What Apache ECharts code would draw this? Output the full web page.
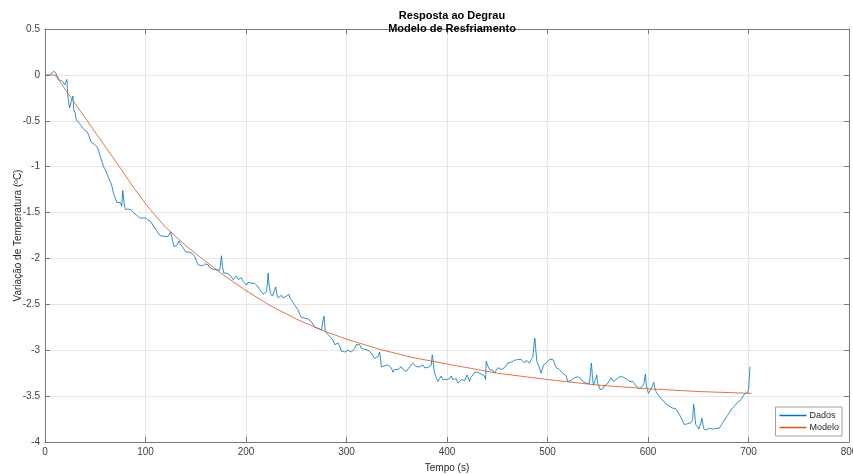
<!DOCTYPE html>
<html>
<head>
<meta charset="utf-8">
<script src="https://cdn.jsdelivr.net/npm/echarts@6/dist/echarts.min.js"></script>
<style>
  html, body { margin: 0; padding: 0; background: #fff; }
  #chart { width: 853px; height: 474px; }
</style>
</head>
<body>
<div id="chart"></div>
<script>
// eixos
const ticksX = [0, 100, 200, 300, 400, 500, 600, 700, 800];
const ticksY = [0.5, 0, -0.5, -1, -1.5, -2, -2.5, -3, -3.5, -4];

// curva do modelo
const modeloTempo = [0, 10, 26, 42, 58, 74, 89, 104, 120, 140, 156, 175, 200, 225, 250, 275, 300, 333, 366, 400, 450, 500, 550, 600, 650, 703];
const modeloValor = [0, 0, -0.25, -0.5, -0.75, -1.0, -1.24, -1.46, -1.66, -1.86, -2.0, -2.16, -2.35, -2.52, -2.66, -2.78, -2.88, -2.99, -3.08, -3.15, -3.25, -3.32, -3.38, -3.42, -3.45, -3.47];

// dados medidos [tempo, variacao]
const dados = [
  [5,0],[6.3,0.01],[8.6,0.04],[10.9,0.02],[13.5,-0.05],[15.2,-0.07],[17.5,-0.07],[19.5,-0.11],[21.1,-0.13],[21.8,-0.05],
  [22.8,-0.24],[24.5,-0.36],[26.3,-0.28],[27.8,-0.23],[28.6,-0.38],[30.1,-0.42],[31.1,-0.49],[32.7,-0.51],[35.1,-0.54],[37.4,-0.58],
  [39.4,-0.60],[40.7,-0.58],[41.7,-0.62],[43.3,-0.65],[45.0,-0.71],[46.6,-0.74],[49.3,-0.76],[51.6,-0.78],[53.3,-0.82],[54.9,-0.89],
  [56.6,-0.94],[58.2,-1.00],[59.9,-1.03],[61.5,-1.07],[63.2,-1.12],[64.9,-1.16],[66.5,-1.21],[68.2,-1.29],[69.8,-1.30],[71.5,-1.39],
  [73.1,-1.40],[74.8,-1.39],[76.4,-1.43],[77.4,-1.26],[78.4,-1.26],[79.1,-1.43],[80.4,-1.47],[82.4,-1.46],[84.1,-1.44],[85.7,-1.47],
  [88.0,-1.50],[91.3,-1.53],[94.6,-1.56],[97.9,-1.56],[100.3,-1.56],[102.3,-1.58],[104.6,-1.59],[106.2,-1.61],[110.0,-1.68],[114.3,-1.75],
  [119.3,-1.76],[122.6,-1.76],[124.9,-1.71],[125.9,-1.70],[126.9,-1.80],[128.2,-1.87],[130.9,-1.86],[132.5,-1.84],[133.5,-1.81],[134.8,-1.85],
  [136.8,-1.87],[138.2,-1.89],[140.1,-1.93],[142.5,-1.93],[145.8,-1.94],[147.4,-1.94],[149.1,-1.98],[150.7,-2.03],[152.4,-2.07],[154.1,-2.08],
  [156.7,-2.08],[159.0,-2.06],[160.7,-2.05],[162.3,-2.07],[164.0,-2.10],[165.6,-2.11],[167.3,-2.12],[169.0,-2.13],[170.6,-2.12],[172.3,-2.14],
  [173.9,-2.13],[175.6,-1.97],[176.6,-2.09],[177.9,-2.16],[178.9,-2.14],[180.6,-2.16],[182.2,-2.14],[183.9,-2.18],[185.5,-2.20],[187.2,-2.23],
  [188.8,-2.21],[190.5,-2.19],[192.2,-2.23],[193.8,-2.22],[195.5,-2.21],[197.1,-2.25],[198.8,-2.27],[200.4,-2.29],[202.1,-2.26],[203.8,-2.24],
  [205.4,-2.27],[207.1,-2.29],[208.7,-2.27],[210.4,-2.29],[212.0,-2.31],[213.7,-2.34],[215.3,-2.36],[217.0,-2.39],[218.7,-2.38],[220.3,-2.36],
  [221.3,-2.28],[222.0,-2.16],[223.0,-2.29],[224.3,-2.38],[226.3,-2.41],[228.6,-2.34],[229.6,-2.31],[230.9,-2.40],[232.2,-2.43],[233.6,-2.45],
  [235.2,-2.40],[236.9,-2.43],[240.2,-2.41],[242.8,-2.39],[243.6,-2.43],[245.2,-2.45],[246.9,-2.48],[248.5,-2.51],[250.2,-2.53],[251.8,-2.56],
  [253.5,-2.61],[255.1,-2.64],[256.8,-2.63],[258.5,-2.65],[260.1,-2.67],[261.8,-2.66],[263.4,-2.65],[265.1,-2.69],[266.7,-2.72],[268.4,-2.75],
  [270.1,-2.74],[271.7,-2.76],[273.4,-2.75],[275.0,-2.78],[276.7,-2.67],[277.7,-2.63],[278.7,-2.78],[280.0,-2.81],[281.7,-2.83],[283.3,-2.85],
  [285.0,-2.87],[286.6,-2.89],[288.3,-2.94],[290.0,-2.92],[291.6,-2.92],[293.3,-2.96],[294.9,-3.01],[296.6,-3.03],[298.2,-3.02],[299.9,-3.01],
  [301.5,-3.00],[303.2,-3.00],[304.9,-3.02],[306.5,-3.01],[308.2,-2.98],[309.8,-2.94],[311.5,-2.92],[313.1,-2.94],[314.8,-2.98],[316.4,-3.00],
  [318.1,-2.99],[319.8,-2.98],[321.4,-3.00],[323.1,-3.01],[324.7,-3.03],[326.4,-3.05],[328.0,-3.09],[329.7,-3.10],[331.3,-3.07],[333.0,-3.02],
  [334.7,-3.18],[336.3,-3.18],[338.0,-3.17],[339.6,-3.18],[341.3,-3.16],[342.9,-3.14],[344.6,-3.19],[346.3,-3.24],[347.9,-3.21],[349.6,-3.19],
  [351.2,-3.21],[352.9,-3.21],[354.5,-3.18],[356.2,-3.21],[357.8,-3.19],[359.5,-3.23],[361.2,-3.21],[362.8,-3.18],[364.5,-3.16],[366.1,-3.14],
  [367.8,-3.15],[369.4,-3.18],[371.1,-3.19],[372.8,-3.18],[374.4,-3.18],[376.1,-3.16],[377.7,-3.19],[379.4,-3.21],[381.0,-3.19],[382.7,-3.21],
  [384.4,-3.16],[385.3,-3.05],[386.0,-3.09],[387.0,-3.21],[388.0,-3.26],[389.3,-3.30],[391.0,-3.34],[392.6,-3.31],[394.3,-3.28],[395.9,-3.32],
  [397.6,-3.30],[399.3,-3.32],[400.9,-3.30],[402.6,-3.31],[404.2,-3.28],[405.9,-3.32],[407.5,-3.34],[409.2,-3.31],[410.9,-3.36],[412.5,-3.34],
  [414.2,-3.32],[415.8,-3.30],[417.5,-3.33],[419.1,-3.31],[420.1,-3.27],[421.1,-3.25],[422.5,-3.34],[423.4,-3.30],[424.1,-3.28],[425.8,-3.27],
  [427.4,-3.24],[429.1,-3.25],[430.7,-3.24],[432.4,-3.23],[434.0,-3.26],[435.7,-3.25],[437.4,-3.28],[438.4,-3.32],[439.0,-3.12],[440.0,-3.14],
  [441.0,-3.18],[442.3,-3.21],[444.0,-3.19],[445.6,-3.22],[447.3,-3.25],[449.0,-3.23],[450.6,-3.19],[452.3,-3.18],[453.9,-3.21],[455.6,-3.21],
  [457.2,-3.19],[458.9,-3.21],[460.5,-3.14],[462.2,-3.12],[463.9,-3.13],[465.5,-3.12],[467.2,-3.11],[468.8,-3.10],[470.5,-3.10],[472.1,-3.11],
  [473.8,-3.10],[475.5,-3.12],[477.1,-3.14],[478.8,-3.11],[480.4,-3.12],[482.1,-3.14],[483.7,-3.10],[485.4,-3.07],[486.4,-2.96],[487.4,-2.87],
  [488.4,-3.00],[489.4,-3.12],[490.7,-3.14],[492.0,-3.19],[493.7,-3.25],[494.7,-3.21],[496.0,-3.16],[497.3,-3.14],[498.7,-3.14],[500.3,-3.13],
  [502.0,-3.10],[503.6,-3.11],[505.3,-3.10],[506.9,-3.14],[508.6,-3.19],[510.2,-3.21],[511.9,-3.21],[513.6,-3.23],[515.2,-3.25],[516.9,-3.27],
  [518.5,-3.28],[520.2,-3.34],[521.8,-3.36],[523.5,-3.33],[525.2,-3.31],[526.8,-3.30],[528.5,-3.29],[530.1,-3.29],[531.8,-3.29],[533.4,-3.31],
  [535.1,-3.34],[536.7,-3.35],[538.4,-3.36],[540.1,-3.38],[541.7,-3.36],[542.7,-3.25],[543.7,-3.14],[544.7,-3.29],[545.7,-3.38],[546.7,-3.36],
  [547.7,-3.32],[549.0,-3.27],[550.0,-3.36],[551.0,-3.39],[552.3,-3.43],[553.6,-3.44],[555.0,-3.42],[556.6,-3.39],[558.3,-3.39],[559.9,-3.36],
  [561.6,-3.34],[563.3,-3.30],[564.2,-3.29],[565.6,-3.34],[566.9,-3.35],[568.2,-3.32],[569.9,-3.30],[571.5,-3.29],[573.2,-3.28],[574.8,-3.29],
  [576.5,-3.30],[578.2,-3.31],[579.8,-3.32],[581.5,-3.34],[583.1,-3.35],[584.8,-3.34],[586.4,-3.36],[588.1,-3.39],[589.8,-3.39],[591.4,-3.42],
  [593.1,-3.43],[594.7,-3.39],[596.0,-3.36],[597.4,-3.26],[598.4,-3.38],[599.4,-3.43],[600.4,-3.47],[601.4,-3.46],[603.0,-3.42],[604.7,-3.38],
  [605.7,-3.35],[606.7,-3.41],[608.0,-3.45],[609.6,-3.48],[611.3,-3.50],[613.0,-3.53],[614.6,-3.54],[616.3,-3.56],[617.9,-3.59],[619.6,-3.60],
  [621.2,-3.61],[622.9,-3.59],[624.5,-3.63],[626.2,-3.65],[627.9,-3.64],[629.5,-3.65],[631.2,-3.70],[632.8,-3.72],[634.5,-3.77],[636.1,-3.81],
  [637.8,-3.82],[639.5,-3.80],[641.1,-3.81],[642.8,-3.79],[644.4,-3.76],[645.4,-3.59],[646.4,-3.68],[647.4,-3.81],[648.4,-3.79],[649.4,-3.83],
  [650.4,-3.86],[651.7,-3.87],[652.7,-3.79],[653.7,-3.74],[654.7,-3.81],[655.7,-3.86],[656.7,-3.88],[657.7,-3.87],[659.3,-3.86],[661.0,-3.85],
  [662.6,-3.84],[664.3,-3.86],[666.0,-3.84],[667.6,-3.85],[669.3,-3.84],[670.9,-3.85],[672.6,-3.82],[674.2,-3.79],[675.9,-3.76],[677.6,-3.74],
  [679.2,-3.71],[680.9,-3.68],[682.5,-3.65],[684.2,-3.63],[685.8,-3.61],[687.5,-3.59],[689.1,-3.57],[690.8,-3.56],[692.5,-3.54],[694.1,-3.51],
  [695.8,-3.48],[697.4,-3.47],[699.1,-3.46],[700.1,-3.43],[700.7,-3.32],[701.4,-3.19],[702.1,-3.18]
];

const modelo = modeloTempo.map((t, i) => [t, modeloValor[i]]);

const fonte = 'Liberation Sans, Arial, Helvetica, sans-serif';
const corEixo = '#7a7a7a';
const corTexto = '#404040';
const corGrade = '#e6e6e6';

const chart = echarts.init(document.getElementById('chart'));
chart.setOption({
    backgroundColor: '#fff',
    animation: false,
    textStyle: { fontFamily: fonte },
    title: {
        text: 'Resposta ao Degrau\nModelo de Resfriamento',
        left: 447,
        top: 4,
        textAlign: 'center',
        textStyle: { fontSize: 11, fontWeight: 'bold', color: '#000', lineHeight: 13, fontFamily: fonte }
    },
    grid: { left: 45, right: 4, top: 29, bottom: 32, containLabel: false, outerBoundsMode: 'none' },
    legend: {
        data: ['Dados', 'Modelo'],
        orient: 'vertical',
        right: 11,
        bottom: 38,
        icon: 'rect',
        itemWidth: 27,
        itemHeight: 1.5,
        itemGap: 3,
        padding: [4, 3, 4, 4],
        backgroundColor: '#fff',
        borderColor: '#8a8a8a',
        borderWidth: 0.8,
        borderRadius: 0,
        textStyle: { fontSize: 9, color: '#262626', fontFamily: fonte, padding: [0, 0, 0, -2] }
    },
    xAxis: [{
        type: 'value',
        min: ticksX[0],
        max: ticksX[ticksX.length - 1],
        interval: 100,
        name: 'Tempo (s)',
        nameLocation: 'middle',
        nameGap: 21,
        nameMoveOverlap: false,
        nameTextStyle: { fontSize: 10, color: '#262626', fontFamily: fonte },
        axisLine: { onZero: false, lineStyle: { color: corEixo, width: 1 } },
        axisTick: { inside: true, length: 5, lineStyle: { color: corEixo } },
        axisLabel: { fontSize: 10, color: corTexto, margin: 5, fontFamily: fonte },
        splitLine: { show: true, lineStyle: { color: corGrade, width: 1 } }
    }, {
        type: 'value',
        position: 'top',
        min: ticksX[0],
        max: ticksX[ticksX.length - 1],
        interval: 100,
        axisLine: { onZero: false, lineStyle: { color: corEixo, width: 1 } },
        axisTick: { inside: true, length: 5, lineStyle: { color: corEixo } },
        axisLabel: { show: false },
        splitLine: { show: false }
    }],
    yAxis: [{
        type: 'value',
        min: ticksY[ticksY.length - 1],
        max: ticksY[0],
        interval: 0.5,
        name: 'Variação de Temperatura (ºC)',
        nameLocation: 'middle',
        nameGap: 22,
        nameMoveOverlap: false,
        nameTextStyle: { fontSize: 10, color: '#262626', fontFamily: fonte },
        axisLine: { show: true, onZero: false, lineStyle: { color: corEixo, width: 1 } },
        axisTick: { show: true, inside: true, length: 5, lineStyle: { color: corEixo } },
        axisLabel: { fontSize: 10, color: corTexto, margin: 5, fontFamily: fonte },
        splitLine: { show: true, lineStyle: { color: corGrade, width: 1 } }
    }, {
        type: 'value',
        position: 'right',
        min: ticksY[ticksY.length - 1],
        max: ticksY[0],
        interval: 0.5,
        axisLine: { show: true, onZero: false, lineStyle: { color: corEixo, width: 1 } },
        axisTick: { show: true, inside: true, length: 5, lineStyle: { color: corEixo } },
        axisLabel: { show: false },
        splitLine: { show: false }
    }],
    series: [{
        name: 'Dados',
        type: 'line',
        data: dados,
        symbol: 'none',
        color: '#0072BD',
        lineStyle: { color: '#0072BD', width: 0.8 },
        z: 2
    }, {
        name: 'Modelo',
        type: 'line',
        data: modelo,
        symbol: 'none',
        color: '#D95319',
        lineStyle: { color: '#D95319', width: 0.8 },
        z: 3
    }]
});
</script>
</body>
</html>
